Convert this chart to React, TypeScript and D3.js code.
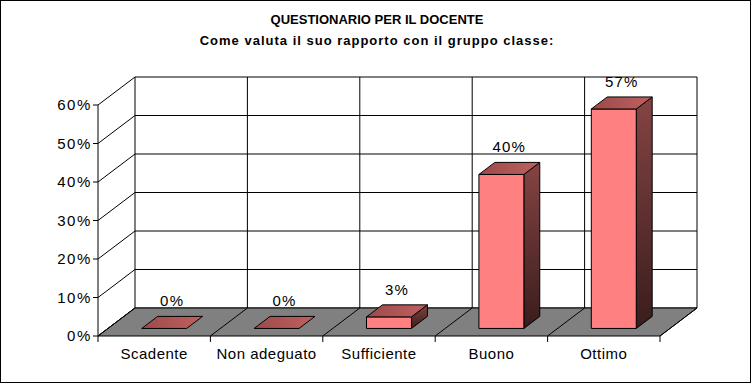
import React from "react";
import * as d3 from "d3";

const categories = ["Scadente", "Non adeguato", "Sufficiente", "Buono", "Ottimo"];
const values = [0, 0, 3, 40, 57];
const valueLabels = ["0%", "0%", "3%", "40%", "57%"];
const yTicks = [0, 10, 20, 30, 40, 50, 60];
const title = "QUESTIONARIO PER IL DOCENTE";
const subtitle = "Come valuta il suo rapporto con il gruppo classe:";

const W = 752;
const H = 384;
const X0 = 98;
const X1 = 660;
const DX = 37;
const DY = -28;
const F0 = 0.27;
const F1 = 0.7;
const FONT = "'Liberation Sans', Arial, sans-serif";

export default function App() {
  const y = d3.scaleLinear().domain([0, 60]).range([336, 105]);
  const x = d3.scaleBand<string>().domain(categories).range([X0, X1]).paddingInner(0.6).paddingOuter(0.3);
  const step = (X1 - X0) / categories.length;
  const bounds = d3.range(categories.length + 1).map((i) => X0 + i * step);
  const y0 = y(0);
  const w = x.bandwidth();

  const pts = (arr: [number, number][]) => arr.map((p) => p.join(",")).join(" ");

  return (
    <svg width={W} height={H} style={{ position: "absolute", left: 0, top: 0, display: "block" }} fontFamily={FONT}>
      <defs>
        <linearGradient id="side" x1="0" y1="0" x2="0" y2="1">
          <stop offset="0%" stopColor="#854444" />
          <stop offset="100%" stopColor="#3a1c1c" />
        </linearGradient>
        <linearGradient id="top" x1="0" y1="0" x2="1" y2="0">
          <stop offset="0%" stopColor="#9c4a4a" />
          <stop offset="100%" stopColor="#c06060" />
        </linearGradient>
      </defs>
      <rect x={0} y={0} width={W} height={H} fill="#fff" />
      <rect x={0.5} y={0.5} width={750} height={382} fill="none" stroke="#000" strokeWidth={1} />

      <text x={377} y={24} textAnchor="middle" fontSize={13} fontWeight="bold">{title}</text>
      <text x={377} y={45} textAnchor="middle" fontSize={13} fontWeight="bold" letterSpacing={1}>{subtitle}</text>

      {/* back wall gridlines */}
      {yTicks.map((t) => (
        <line key={"g" + t} x1={X0 + DX} x2={X1 + DX} y1={y(t) + DY} y2={y(t) + DY} stroke="#000" />
      ))}
      {bounds.map((b, i) => (
        <line key={"bv" + i} x1={b + DX} x2={b + DX} y1={y(0) + DY} y2={y(60) + DY} stroke="#000" />
      ))}
      {/* left wall diagonals */}
      {yTicks.map((t) => (
        <line key={"d" + t} x1={X0} x2={X0 + DX} y1={y(t)} y2={y(t) + DY} stroke="#000" />
      ))}

      {/* floor */}
      <polygon points={pts([[X0, y0], [X1, y0], [X1 + DX, y0 + DY], [X0 + DX, y0 + DY]])} fill="#808080" stroke="#000" />
      {bounds.map((b, i) => (
        <line key={"fd" + i} x1={b} x2={b + DX} y1={y0} y2={y0 + DY} stroke="#000" />
      ))}

      {/* bars */}
      {categories.map((c, i) => {
        const v = values[i];
        const bx = x(c) as number;
        const fx0 = bx + F0 * DX;
        const fx1 = bx + w + F0 * DX;
        const bx0 = bx + F1 * DX;
        const bx1 = bx + w + F1 * DX;
        const ytF = y(v) + F0 * DY;
        const ytB = y(v) + F1 * DY;
        const ybF = y0 + F0 * DY;
        const ybB = y0 + F1 * DY;
        return (
          <g key={c} stroke="#000" strokeWidth={1} strokeLinejoin="round">
            {v > 0 && (
              <polygon points={pts([[fx1, ytF], [bx1, ytB], [bx1, ybB], [fx1, ybF]])} fill="url(#side)" />
            )}
            {v > 0 && <rect x={fx0} y={ytF} width={w} height={ybF - ytF} fill="#ff8080" />}
            <polygon points={pts([[fx0, ytF], [fx1, ytF], [bx1, ytB], [bx0, ytB]])} fill="url(#top)" />
          </g>
        );
      })}

      {/* left axis */}
      <line x1={X0} x2={X0} y1={y(60)} y2={y(0)} stroke="#000" />
      {yTicks.map((t) => (
        <g key={"t" + t}>
          <line x1={X0 - 5} x2={X0} y1={y(t)} y2={y(t)} stroke="#000" />
          <text x={92} y={y(t) + 5} textAnchor="end" fontSize={15} letterSpacing={1.6}>{t + "%"}</text>
        </g>
      ))}
      {/* category ticks and labels */}
      {bounds.map((b, i) => (
        <line key={"ct" + i} x1={b} x2={b} y1={y0} y2={y0 + 6} stroke="#000" />
      ))}
      {categories.map((c) => (
        <text key={"cl" + c} x={(x(c) as number) + w / 2} y={359} textAnchor="middle" fontSize={15} letterSpacing={0.5}>{c}</text>
      ))}

      {/* value labels */}
      {categories.map((c, i) => {
        const bx = (x(c) as number) + w / 2 + ((F0 + F1) / 2) * DX;
        const by = y(values[i]) + ((F0 + F1) / 2) * DY - 16;
        return (
          <text key={"vl" + c} x={bx} y={by} textAnchor="middle" fontSize={15} letterSpacing={1.2}>{valueLabels[i]}</text>
        );
      })}
    </svg>
  );
}
